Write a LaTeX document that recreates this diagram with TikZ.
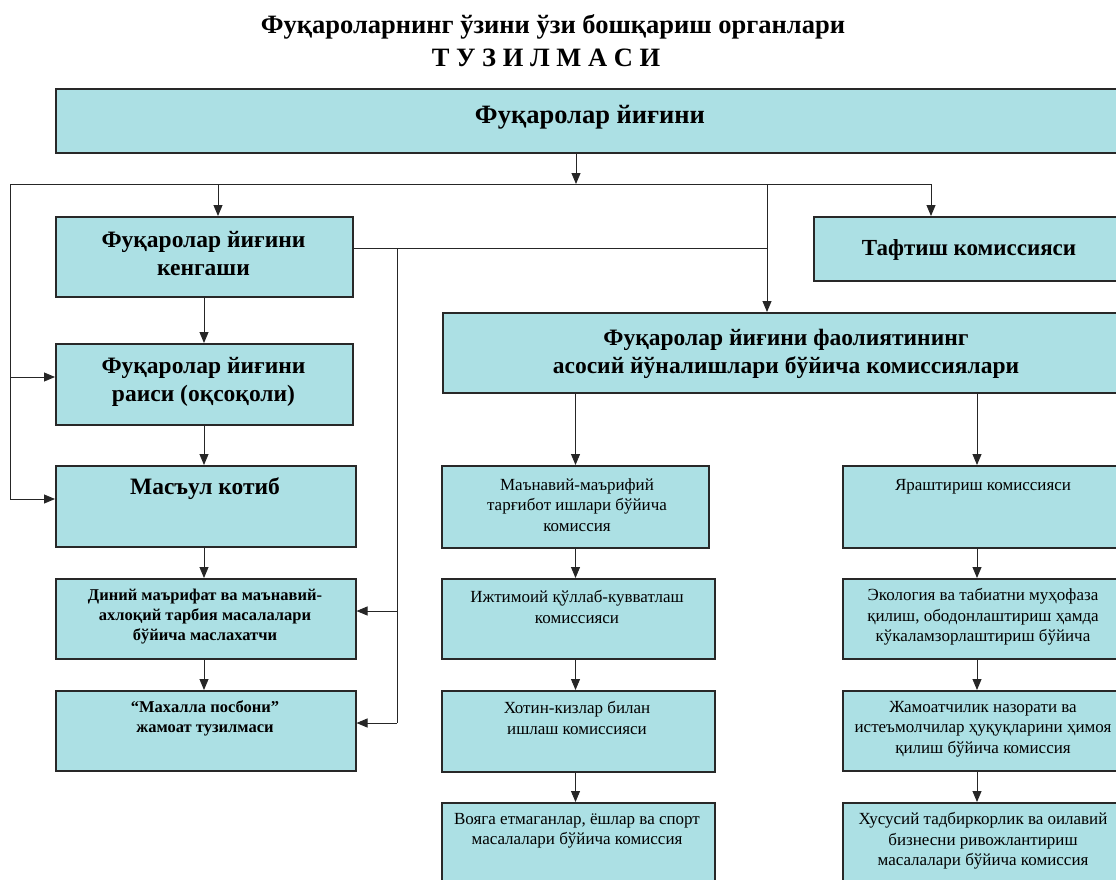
\documentclass[tikz,border=0pt]{standalone}
\usepackage{fontspec}
\setmainfont{Liberation Serif}
\usetikzlibrary{arrows.meta,positioning}

\definecolor{boxfill}{RGB}{172,224,228}
\definecolor{boxline}{RGB}{40,40,40}

\tikzset{
  box/.style={draw=boxline, line width=1.5pt, fill=boxfill, anchor=north west, inner sep=0pt},
  link/.style={line width=0.9pt, draw=black!85},
  arr/.style={link, -{Triangle[length=11pt,width=9pt]}},
  hugetxt/.style={align=center, font=\bfseries\fontsize{26.5}{31}\selectfont, inner sep=0pt},
  bigtxt/.style={align=center, font=\bfseries\fontsize{23.5}{27.5}\selectfont, inner sep=0pt},
  smalltxt/.style={align=center, font=\bfseries\fontsize{16.5}{20}\selectfont, inner sep=0pt},
  plaintxt/.style={align=center, font=\fontsize{17}{20.5}\selectfont, inner sep=0pt},
}

% box: name, x1, y1, x2, y2
\newcommand{\orgbox}[5]{\node[box, minimum width={#4-#2}, minimum height={#5-#3}] (#1) at (#2,#3) {};}

\begin{document}
\begin{tikzpicture}[x=1pt,y=-1pt]
\useasboundingbox (0,0) rectangle (1116,879);
\clip (0,0) rectangle (1116,879);

% title
\node[hugetxt] (titleA) at (553,27) {Фуқароларнинг ўзини ўзи бошқариш органлари};
\node[hugetxt] (titleB) at (546,58) {Т У З И Л М А С И};

% boxes
\orgbox{gather}{55}{88}{1125}{152}
\orgbox{council}{55}{216}{352}{296}
\orgbox{chair}{55}{343}{352}{424}
\orgbox{sec}{55}{465}{355}{546}
\orgbox{dini}{55}{578}{355}{658}
\orgbox{mahalla}{55}{690}{355}{770}
\orgbox{audit}{813}{216}{1125}{280}
\orgbox{comm}{442}{312}{1130}{392}
\orgbox{m1}{441}{465}{708}{547}
\orgbox{m2}{441}{578}{714}{658}
\orgbox{m3}{441}{690}{714}{771}
\orgbox{m4}{441}{802}{714}{890}
\orgbox{r1}{842}{465}{1124}{547}
\orgbox{r2}{842}{578}{1124}{658}
\orgbox{r3}{842}{690}{1124}{770}
\orgbox{r4}{842}{802}{1124}{890}

% texts
\node[hugetxt] (gatherT) at (590,117) {Фуқаролар йиғини};
\node[bigtxt] (councilT) at (203.5,253.5) {Фуқаролар йиғини\\кенгаши};
\node[bigtxt] (chairT) at (203.5,382) {Фуқаролар йиғини\\раиси (оқсоқоли)};
\node[bigtxt] (secT) at (205,489) {Масъул котиб};
\node[smalltxt] (diniT) at (205,617) {Диний маърифат ва маънавий-\\ахлоқий тарбия масалалари\\бўйича маслахатчи};
\node[smalltxt] (mahallaT) at (205,718) {“Махалла посбони”\\жамоат тузилмаси};
\node[bigtxt, font=\bfseries\fontsize{23}{27}\selectfont] (auditT) at (969,250) {Тафтиш комиссияси};
\node[bigtxt] (commT) at (786,354) {Фуқаролар йиғини фаолиятининг\\асосий йўналишлари бўйича комиссиялари};
\node[plaintxt] (m1T) at (577,505) {Маънавий-маърифий\\тарғибот ишлари бўйича\\комиссия};
\node[plaintxt] (m2T) at (577,607) {Ижтимоий қўллаб-кувватлаш\\комиссияси};
\node[plaintxt] (m3T) at (577,718) {Хотин-кизлар билан\\ишлаш комиссияси};
\node[plaintxt] (m4T) at (577,831) {Вояга етмаганлар, ёшлар ва спорт\\масалалари бўйича комиссия};
\node[plaintxt] (r1T) at (983,487) {Яраштириш комиссияси};
\node[plaintxt] (r2T) at (983,617) {Экология ва табиатни муҳофаза\\қилиш, ободонлаштириш ҳамда\\кўкаламзорлаштириш бўйича};
\node[plaintxt] (r3T) at (983,729) {Жамоатчилик назорати ва\\истеъмолчилар ҳуқуқларини ҳимоя\\қилиш бўйича комиссия};
\node[plaintxt] (r4T) at (983,841) {Хусусий тадбиркорлик ва оилавий\\бизнесни ривожлантириш\\масалалари бўйича комиссия};

% bus under the gathering
\coordinate (busL) at (10,184);
\coordinate (busC) at (218,184);
\coordinate (busM) at (576,184);
\coordinate (busK) at (767,184);
\coordinate (busR) at (931,184);
\draw[link] (busL) -- (busR);
\draw[arr] (gather.south -| busM) -- (busM);
\draw[arr] (busC) -- (busC |- council.north);
\draw[arr] (busK) -- (busK |- comm.north);
\draw[arr] (busR) -- (busR |- audit.north);

% left rail
\coordinate (railC) at (10,377);
\coordinate (railS) at (10,499);
\draw[link] (busL) -- (railS);
\draw[arr] (railC) -- (railC -| chair.west);
\draw[arr] (railS) -- (railS -| sec.west);

% council branch
\coordinate (cjoin) at (767,248);
\coordinate (railR) at (397,248);
\coordinate (railD) at (397,611);
\coordinate (railH) at (397,723);
\draw[link] (cjoin -| council.east) -- (cjoin);
\draw[link] (railR) -- (railH);
\draw[arr] (railD) -- (railD -| dini.east);
\draw[arr] (railH) -- (railH -| mahalla.east);

% chains
\coordinate (colL) at (204,0);
\coordinate (colM) at (575.5,0);
\coordinate (colR) at (977,0);
\foreach \a/\b in {council/chair, chair/sec, sec/dini, dini/mahalla}
  \draw[arr] (\a.south -| colL) -- (\b.north -| colL);
\foreach \a/\b in {comm/m1, m1/m2, m2/m3, m3/m4}
  \draw[arr] (\a.south -| colM) -- (\b.north -| colM);
\foreach \a/\b in {comm/r1, r1/r2, r2/r3, r3/r4}
  \draw[arr] (\a.south -| colR) -- (\b.north -| colR);
\end{tikzpicture}
\end{document}
